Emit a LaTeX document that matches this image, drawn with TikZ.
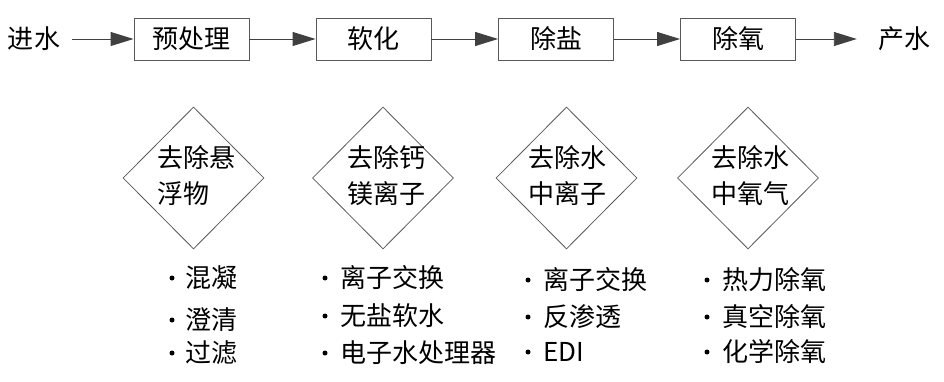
\documentclass[tikz,border=0pt]{standalone}
\usepackage{fontspec}
\setmainfont{Noto Sans CJK SC}
\usetikzlibrary{shapes.geometric,arrows.meta}
\begin{document}
\begin{tikzpicture}[x=1pt,y=-1pt,
  every node/.style={font=\fontsize{26}{36}\selectfont},
  proc/.style={draw=black!65,line width=0.9pt,minimum width=115pt,minimum height=42pt,inner sep=0pt},
  goal/.style={diamond,draw=black!65,line width=0.8pt,minimum width=141pt,minimum height=142pt,inner sep=0pt},
  flow/.style={draw=black!75,line width=0.9pt,-{Triangle[length=23pt,width=14pt]}},
  goaltext/.style={align=left,inner sep=0pt},
  dot/.style={circle,fill=black,inner sep=0pt,minimum size=5pt},
  item/.style={anchor=west,inner sep=0pt}]
\useasboundingbox (0,0) rectangle (944,382);
% main flow
\node[inner xsep=12pt,inner ysep=0pt] (in) at (34,39) {进水};
\node[proc] (b1) at (191.5,39) {预处理};
\node[proc] (b2) at (373.5,39) {软化\hspace{14pt}};
\node[proc] (b3) at (556,39) {除盐\hspace{14pt}};
\node[proc] (b4) at (738,39) {除氧\hspace{14pt}};
\node[inner xsep=21pt,inner ysep=0pt] (out) at (904,39) {产水};
\draw[flow] (in.east) -- (b1.west);
\draw[flow] (b1.east) -- (b2.west);
\draw[flow] (b2.east) -- (b3.west);
\draw[flow] (b3.east) -- (b4.west);
\draw[flow] (b4.east) -- (out.west);
% goals
\node[goal] (g1) at (193.5,178) {};
\node[goal] (g2) at (383,178) {};
\node[goal] (g3) at (566.5,178) {};
\node[goal] (g4) at (748,178) {};
\node[goaltext] (t1) at (196.5,176) {去除悬\\浮物\hphantom{悬}};
\node[goaltext] (t2) at (386,176) {去除钙\\镁离子};
\node[goaltext] (t3) at (567.5,176) {去除水\\中离子};
\node[goaltext] (t4) at (750,176) {去除水\\中氧气};
% lists
\node[dot] (d11) at (172,278) {}; \node[item] (i11) at (185,278) {混凝};
\node[dot] (d12) at (172,320) {}; \node[item] (i12) at (185,320) {澄清};
\node[dot] (d13) at (172,353) {}; \node[item] (i13) at (185,353) {过滤};
\node[dot] (d21) at (325,278) {}; \node[item] (i21) at (340,278) {离子交换};
\node[dot] (d22) at (325,316) {}; \node[item] (i22) at (340,316) {无盐软水};
\node[dot] (d23) at (325,353) {}; \node[item] (i23) at (340,353) {电子水处理器};
\node[dot] (d31) at (528,280) {}; \node[item] (i31) at (543,280) {离子交换};
\node[dot] (d32) at (528,317) {}; \node[item] (i32) at (543,317) {反渗透};
\node[dot] (d33) at (528,352) {}; \node[item] (i33) at (543,352) {EDI};
\node[dot] (d41) at (707,280) {}; \node[item] (i41) at (722,280) {热力除氧};
\node[dot] (d42) at (707,317) {}; \node[item] (i42) at (722,317) {真空除氧};
\node[dot] (d43) at (707,352) {}; \node[item] (i43) at (722,352) {化学除氧};
\end{tikzpicture}
\end{document}
